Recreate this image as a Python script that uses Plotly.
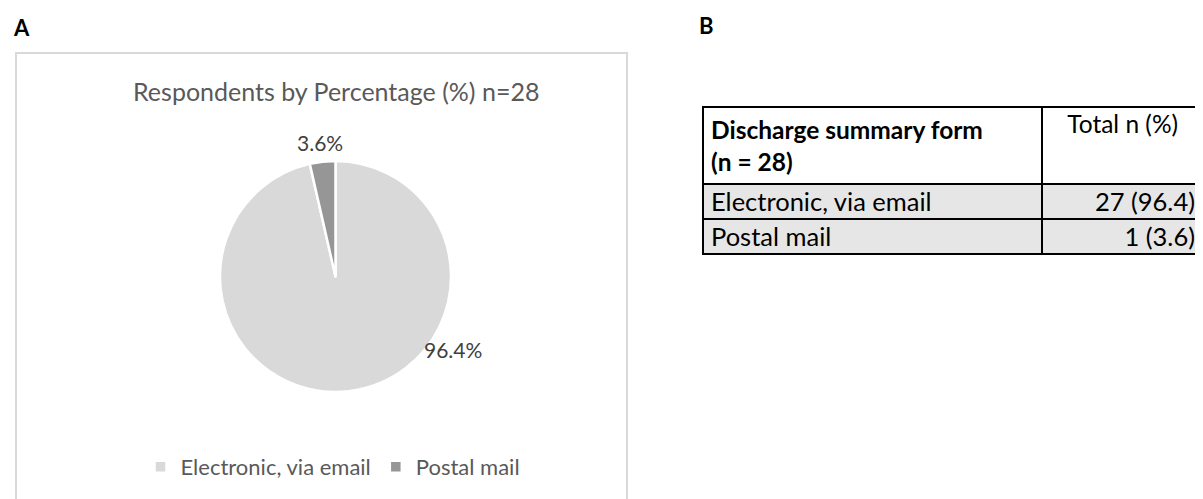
import plotly.graph_objects as go

W, H = 1203, 499
PAGE_OFF = 8  # default body margin of the html page

# data
categories = ["Electronic, via email", "Postal mail"]
counts = [27, 1]
n_total = 28
slice_colors = ["#d9d9d9", "#969696"]
chart_title = "Respondents by Percentage (%) n=28"
table_title = "Discharge summary form<br>(n = 28)"
table_col2 = "Total n (%)"


def fx(px):
    return (px - PAGE_OFF) / W


def fy(py):
    return 1 - (py - PAGE_OFF) / H


pcts = [c / n_total * 100 for c in counts]

fig = go.Figure()

fig.add_trace(go.Pie(
    labels=categories, values=counts, sort=False, direction="clockwise",
    rotation=0, textinfo="none", hoverinfo="label+percent",
    marker=dict(colors=slice_colors, line=dict(color="white", width=2.5)),
    domain=dict(x=[fx(220), fx(451)], y=[fy(392), fy(161)]),
    showlegend=True,
))

# table B
cells_left = categories
cells_right = [f"{c} ({p:.1f})" for c, p in zip(counts, pcts)]
fig.add_trace(go.Table(
    domain=dict(x=[fx(703), fx(1204)], y=[fy(260), fy(107)]),
    columnwidth=[340, 161],
    header=dict(
        values=[f"<b>{table_title}</b>", table_col2],
        align=["left", "center"], height=70,
        fill_color="white", line=dict(color="black", width=2),
        font=dict(family="Lato", size=24.5, color="black"),
    ),
    cells=dict(
        values=[cells_left, cells_right],
        align=["left", "right"], height=35,
        fill_color="#e7e6e6", line=dict(color="black", width=2),
        font=dict(family="Lato", size=25.5, color="black"),
    ),
))

# data labels of the pie
label_pos = [(453, 349), (320, 142)]
annotations = []
for p, (lx, ly) in zip(pcts, label_pos):
    annotations.append(dict(
        x=fx(lx), y=fy(ly), xref="paper", yref="paper", text=f"{p:.1f}%",
        showarrow=False, xanchor="center", yanchor="middle",
        font=dict(family="Lato", size=21, color="#404040"),
    ))

annotations += [
    dict(x=fx(336), y=fy(91), xref="paper", yref="paper",
         text=chart_title, showarrow=False, xanchor="center", yanchor="middle",
         font=dict(family="Lato", size=25, color="#595959")),
    dict(x=fx(11), y=fy(27), xref="paper", yref="paper", text="<b>A</b>",
         showarrow=False, xanchor="left", yanchor="middle",
         font=dict(family="Lato", size=22, color="black")),
    dict(x=fx(697), y=fy(25), xref="paper", yref="paper", text="<b>B</b>",
         showarrow=False, xanchor="left", yanchor="middle",
         font=dict(family="Lato", size=22, color="black")),
]

fig.update_layout(
    width=W, height=H, margin=dict(l=0, r=0, t=0, b=0),
    paper_bgcolor="white", plot_bgcolor="white",
    annotations=annotations,
    shapes=[dict(type="rect", xref="paper", yref="paper",
                 x0=fx(16), x1=fx(627), y0=-0.02, y1=fy(53),
                 line=dict(color="#d9d9d9", width=2))],
    legend=dict(orientation="h", x=fx(333), y=fy(467), xanchor="center",
                yanchor="middle", font=dict(family="Lato", size=22, color="#595959"),
                itemclick=False, traceorder="normal"),
)

fig.write_html("out.html")
